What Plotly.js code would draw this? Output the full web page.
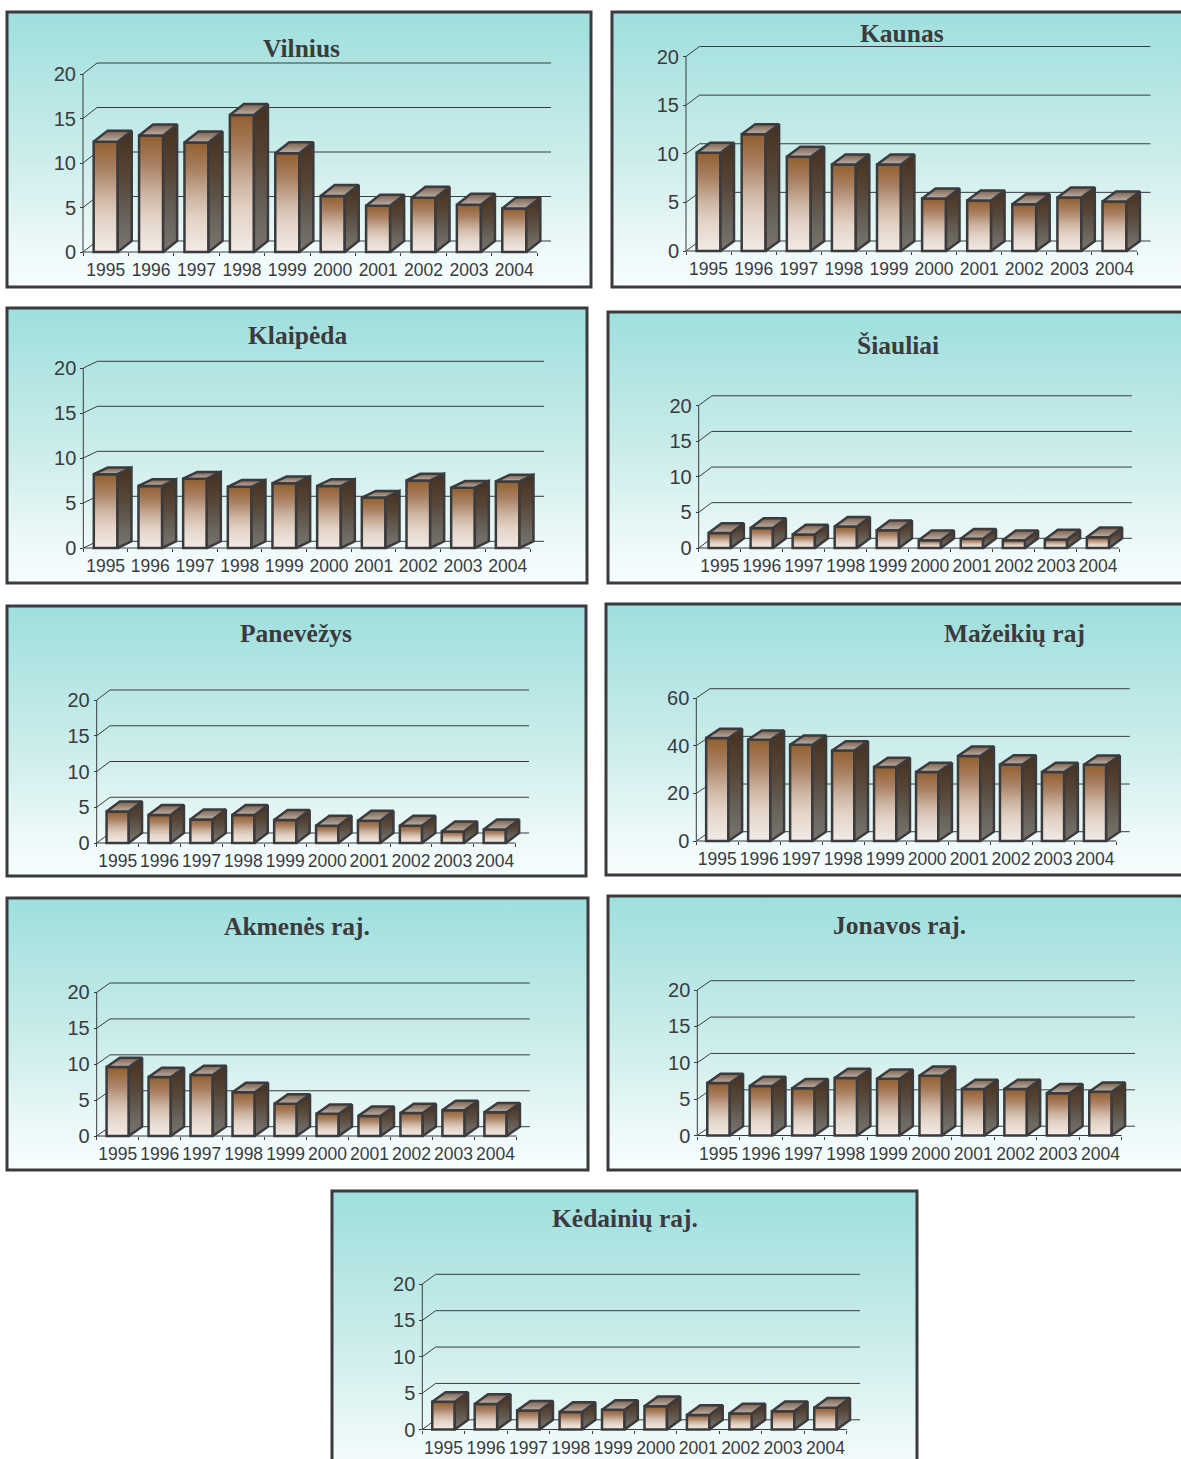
<!DOCTYPE html>
<html lang="lt">
<head>
<meta charset="utf-8">
<title>Rajonų rodikliai 1995–2004</title>
<script src="https://cdn.plot.ly/plotly-3.0.1.min.js"></script>
<style>
  html, body { margin: 0; padding: 0; background: #ffffff; overflow: hidden; }
  #chart { width: 1181px; height: 1459px; }
</style>
</head>
<body>
<div id="chart"></div>
<script>
// Category labels shared by every panel
const years = ['1995','1996','1997','1998','1999','2000','2001','2002','2003','2004'];

// Values per municipality
const vilnius   = [12.4, 13.1, 12.3, 15.4, 11.1, 6.3, 5.2, 6.1, 5.3, 4.9];
const kaunas    = [10.1, 12.0, 9.7, 8.9, 8.9, 5.4, 5.2, 4.8, 5.5, 5.1];
const klaipeda  = [8.2, 6.9, 7.7, 6.8, 7.2, 6.9, 5.6, 7.5, 6.7, 7.4];
const siauliai  = [2.1, 2.8, 1.9, 3.0, 2.5, 1.1, 1.3, 1.1, 1.2, 1.5];
const panevezys = [4.4, 3.9, 3.3, 3.9, 3.2, 2.4, 3.1, 2.4, 1.6, 1.9];
const mazeikiai = [43.2, 42.5, 40.4, 38.0, 31.0, 28.9, 35.7, 32.1, 28.9, 32.0];
const akmene    = [9.6, 8.2, 8.5, 6.1, 4.5, 3.1, 2.8, 3.2, 3.6, 3.3];
const jonava    = [7.2, 6.8, 6.5, 7.9, 7.8, 8.2, 6.4, 6.4, 5.8, 6.0];
const kedainiai = [3.8, 3.5, 2.6, 2.4, 2.7, 3.2, 2.0, 2.2, 2.5, 3.0];

const titles = ['Vilnius','Kaunas','Klaipėda','Šiauliai','Panevėžys','Mažeikių raj','Akmenės raj.','Jonavos raj.','Kėdainių raj.'];
const series = [vilnius, kaunas, klaipeda, siauliai, panevezys, mazeikiai, akmene, jonava, kedainiai];
const axisTicks = [
  [0,5,10,15,20],[0,5,10,15,20],[0,5,10,15,20],[0,5,10,15,20],[0,5,10,15,20],
  [0,20,40,60],[0,5,10,15,20],[0,5,10,15,20],[0,5,10,15,20]
];

// Panel boxes and plot placement, in page pixels
const W = 1181, H = 1459;
const frames = [
  {l:7,t:12,r:591,b:287},{l:612,t:12,r:1200,b:287},
  {l:7,t:308,r:587,b:583},{l:608,t:312,r:1200,b:583},
  {l:7,t:606,r:586,b:876},{l:606,t:604,r:1200,b:875},
  {l:7,t:898,r:588,b:1170},{l:608,t:896,r:1200,b:1170},
  {l:332,t:1191,r:917,b:1480}
];
const plots = [
  {x0:83,   xEnd:537,    y0:252,    yTop:74,    dx:14,   dy:11,  tx:301.5,ty:48.5},
  {x0:686,  xEnd:1137,   y0:251,    yTop:56.5,  dx:13.5, dy:10,  tx:902,  ty:33},
  {x0:83.3, xEnd:530,    y0:548,    yTop:368,   dx:14,   dy:6.7, tx:297,  ty:335.5},
  {x0:698.7,xEnd:1119,   y0:548,    yTop:405.5, dx:13,   dy:9.7, tx:898,  ty:345},
  {x0:96.7, xEnd:515.7,  y0:843,    yTop:700,   dx:13.3, dy:10,  tx:296,  ty:633},
  {x0:696.3,xEnd:1116,   y0:841,    yTop:698,   dx:13.7, dy:9.3, tx:1014, ty:633},
  {x0:96.7, xEnd:516.5,  y0:1136,   yTop:992.3, dx:13.3, dy:9.3, tx:297,  ty:926},
  {x0:697.3,xEnd:1121.7, y0:1135.5, yTop:990,   dx:13.3, dy:9.3, tx:899,  ty:925},
  {x0:422.3,xEnd:846.7,  y0:1429.5, yTop:1284,  dx:13.3, dy:9.7, tx:625,  ty:1218}
];

const INK = '#3b3b3e';
const BAR_WIDTH = 0.53;
const PAD = 3;
const px = v => v / W;
const py = v => 1 - v / H;

const traces = [], shapes = [], annotations = [], layout = {};

// Panel backgrounds come first so they sit beneath every grid line
frames.forEach(f => shapes.push({
  type:'rect', xref:'paper', yref:'paper', layer:'below',
  x0:px(f.l), x1:px(f.r), y0:py(f.b), y1:py(f.t),
  fillcolor:'#cdeeee', line:{color:INK, width:3}
}));

series.forEach((values, p) => {
  const g = plots[p], ticks = axisTicks[p];
  const suffix = p === 0 ? '' : String(p + 1);
  const xa = 'x' + suffix, ya = 'y' + suffix;
  const yMax = ticks[ticks.length - 1];
  const cat = (g.xEnd - g.x0) / years.length;
  const unit = (g.y0 - g.yTop) / yMax;
  const du = g.dx / cat, dv = g.dy / unit;
  const left = -0.5, right = years.length - 0.5;

  layout['xaxis' + suffix] = {
    domain:[px(g.x0 - PAD), px(g.xEnd + g.dx + PAD)],
    range:[left - PAD / cat, right + du + PAD / cat],
    anchor:'free', position:py(g.y0), showgrid:false, zeroline:false, showline:false,
    tickmode:'array', tickvals:years.map((_, i) => i), ticktext:years,
    ticks:'outside', ticklen:2, tickcolor:'rgba(0,0,0,0)',
    tickfont:{family:'"Liberation Sans", Arial, sans-serif', size:17.5, color:INK},
    minor:{tickmode:'array', tickvals:years.concat('').map((_, i) => i - 0.5),
           ticks:'outside', ticklen:3, tickcolor:INK, tickwidth:1, showgrid:false}
  };
  layout['yaxis' + suffix] = {
    domain:[py(g.y0 + PAD), py(g.yTop - g.dy - PAD)],
    range:[-PAD / unit, yMax + dv + PAD / unit],
    anchor:'free', position:px(g.x0), showgrid:false, zeroline:false, showline:false,
    tickmode:'array', tickvals:ticks, ticktext:ticks.map(String),
    ticks:'outside', ticklen:3, tickcolor:INK, tickwidth:1,
    tickfont:{family:'"Liberation Sans", Arial, sans-serif', size:20, color:INK}
  };

  // Walls: floor edge, vertical axis and the receding grid lines
  const wall = {type:'path', xref:xa, yref:ya, layer:'below', line:{color:INK, width:1}};
  shapes.push({...wall, path:`M ${left},0 L ${right},0`});
  shapes.push({...wall, path:`M ${left},0 L ${left},${yMax}`});
  ticks.forEach(t => shapes.push({
    ...wall, path:`M ${left},${t} L ${left + du},${t + dv} L ${right + du},${t + dv}`
  }));

  // Front faces of the columns
  traces.push({
    type:'bar', xaxis:xa, yaxis:ya, x:years.map((_, i) => i), y:values,
    width:years.map(() => BAR_WIDTH), cliponaxis:false, hoverinfo:'skip',
    marker:{color:'#c9ae98', line:{color:INK, width:2.5}}, showlegend:false
  });

  // Side and top faces follow the same depth offset as the walls
  values.forEach((v, i) => {
    const a = i - BAR_WIDTH / 2, b = i + BAR_WIDTH / 2;
    const face = {
      type:'scatter', mode:'lines', xaxis:xa, yaxis:ya, fill:'toself',
      line:{color:INK, width:2.5}, cliponaxis:false, hoverinfo:'skip', showlegend:false
    };
    traces.push({...face, uid:`faceSide${p}n${i}`, fillcolor:'#5a4a3c',
      x:[b, b + du, b + du, b, b], y:[0, dv, v + dv, v, 0]});
    traces.push({...face, uid:`faceTop${p}n${i}`, fillcolor:'#9c8878',
      x:[a, a + du, b + du, b, a], y:[v, v + dv, v + dv, v, v]});
  });

  annotations.push({
    xref:'paper', yref:'paper', x:px(g.tx), y:py(g.ty), xanchor:'center', yanchor:'middle',
    text:titles[p], showarrow:false,
    font:{family:'"Liberation Serif", "Times New Roman", serif', size:25.5, color:INK, weight:700}
  });
});

Object.assign(layout, {
  width:W, height:H, margin:{l:0, r:0, t:0, b:0}, showlegend:false,
  paper_bgcolor:'#ffffff', plot_bgcolor:'rgba(0,0,0,0)', shapes, annotations
});

// Vertical colour ramps for the panel backgrounds and the column faces
const ramps = {
  panelRamp:[[0,'#9edfdd'],[0.5,'#c9ecea'],[0.85,'#ecf9f8'],[1,'#f7fefe']],
  frontRamp:[[0,'#925f2e'],[0.25,'#a98062'],[0.5,'#cdb5a2'],[0.7,'#e3d3c7'],[1,'#f2ebe5']],
  sideRamp:[[0,'#46301e'],[0.4,'#574739'],[0.75,'#6a655d'],[1,'#79746c']],
  topRamp:[[0,'#7d624d'],[1,'#bcb1a9']]
};

function paintFaces(gd) {
  const ns = 'http://www.w3.org/2000/svg';
  const defs = gd.querySelector('svg.main-svg defs');
  Object.entries(ramps).forEach(([id, stops]) => {
    if (defs.querySelector('#' + id)) return;
    const lg = document.createElementNS(ns, 'linearGradient');
    lg.setAttribute('id', id);
    lg.setAttribute('x1', '0'); lg.setAttribute('y1', '0');
    lg.setAttribute('x2', '0'); lg.setAttribute('y2', '1');
    stops.forEach(([o, c]) => {
      const s = document.createElementNS(ns, 'stop');
      s.setAttribute('offset', o); s.setAttribute('stop-color', c);
      lg.appendChild(s);
    });
    defs.appendChild(lg);
  });
  const paint = (sel, id) => gd.querySelectorAll(sel).forEach(el => { el.style.fill = `url(#${id})`; });
  paint('.barlayer .bars .point path', 'frontRamp');
  paint('.scatterlayer .trace[class*="faceSide"] path.js-fill', 'sideRamp');
  paint('.scatterlayer .trace[class*="faceTop"] path.js-fill', 'topRamp');
  gd.querySelectorAll('.layer-below .shapelayer path').forEach(el => {
    if (Number(el.getAttribute('data-index')) < frames.length) el.style.fill = 'url(#panelRamp)';
  });
}

const gd = document.getElementById('chart');
Plotly.newPlot(gd, traces, layout, {staticPlot:true, displayModeBar:false}).then(() => paintFaces(gd));
</script>
</body>
</html>
